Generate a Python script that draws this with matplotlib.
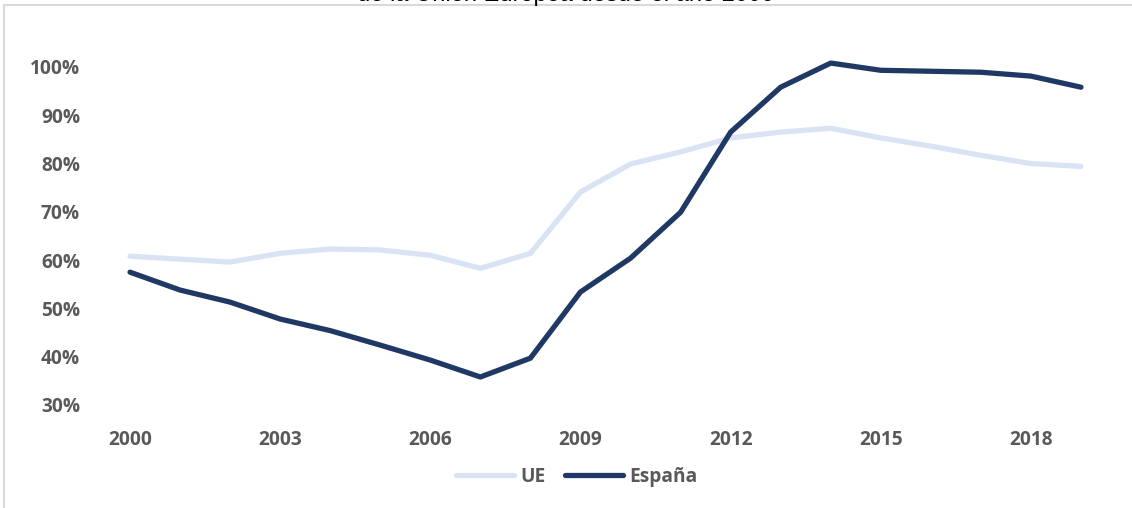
import matplotlib
matplotlib.use("Agg")
import matplotlib.pyplot as plt
from matplotlib.patches import Rectangle
from matplotlib.ticker import FuncFormatter

# ================================================================
# Data (% of GDP)
# ================================================================
years = list(range(2000, 2020))

ue = [60.8, 60.2, 59.6, 61.4, 62.3, 62.1, 61.0, 58.3, 61.4, 74.1,
      79.9, 82.4, 85.3, 86.5, 87.3, 85.3, 83.6, 81.7, 80.0, 79.4]

espana = [57.5, 53.8, 51.3, 47.8, 45.4, 42.4, 39.3, 35.8, 39.7, 53.4,
          60.4, 69.9, 86.5, 95.8, 100.8, 99.3, 99.1, 98.9, 98.1, 95.8]

series_labels = ['UE', 'España']
x_ticks = [2000, 2003, 2006, 2009, 2012, 2015, 2018]
y_ticks = [30, 40, 50, 60, 70, 80, 90, 100]

title_text = 'de la Unión Europea desde el año 2000'

# ================================================================
# Style
# ================================================================
light_blue = '#dae3f3'
navy = '#203864'
label_grey = '#595959'
W, H = 1132, 508

plt.rcParams['font.family'] = ['Open Sans', 'DejaVu Sans']

fig = plt.figure(figsize=(W / 100, H / 100), dpi=100)

# chart border (partly cropped in the reference)
fig.patches.append(Rectangle((4 / W, -0.05), 1.1, 1 - 4.5 / H + 0.05,
                             transform=fig.transFigure, fill=False,
                             edgecolor='#d9d9d9', linewidth=1.5))

# title, cut off at the top edge as in the reference
fig.text(0.5, 1 - 1.5 / H, title_text, ha='center', va='baseline',
         fontsize=17, color='#000000', family=['Liberation Sans'])

ax = fig.add_axes([105 / W, (H - 405) / H, 1001 / W, 357.4 / H])

ax.plot(years, ue, color=light_blue, linewidth=3.8,
        solid_capstyle='round', solid_joinstyle='round', label=series_labels[0])
ax.plot(years, espana, color=navy, linewidth=3.8,
        solid_capstyle='round', solid_joinstyle='round', label=series_labels[1])

ax.set_xlim(1999.5, 2019.5)
ax.set_ylim(30, 104)
ax.set_xticks(x_ticks)
ax.set_yticks(y_ticks)
ax.yaxis.set_major_formatter(FuncFormatter(lambda v, p: f'{v:.0f}%'))

for s in ax.spines.values():
    s.set_visible(False)
ax.tick_params(axis='both', length=0, labelsize=13.8, labelcolor=label_grey)
ax.tick_params(axis='y', pad=18)
ax.tick_params(axis='x', pad=18)
for t in ax.get_xticklabels() + ax.get_yticklabels():
    t.set_fontweight('bold')

# legend centred on the figure, below the axis
leg = fig.legend(loc='center', bbox_to_anchor=(577 / W, 1 - 477 / H),
                 ncol=2, frameon=False, handlelength=3.0, handletextpad=0.35,
                 columnspacing=1.0, prop={'size': 13.8, 'weight': 'bold'})
for t in leg.get_texts():
    t.set_color(label_grey)

fig.savefig('out.png', dpi=100)
